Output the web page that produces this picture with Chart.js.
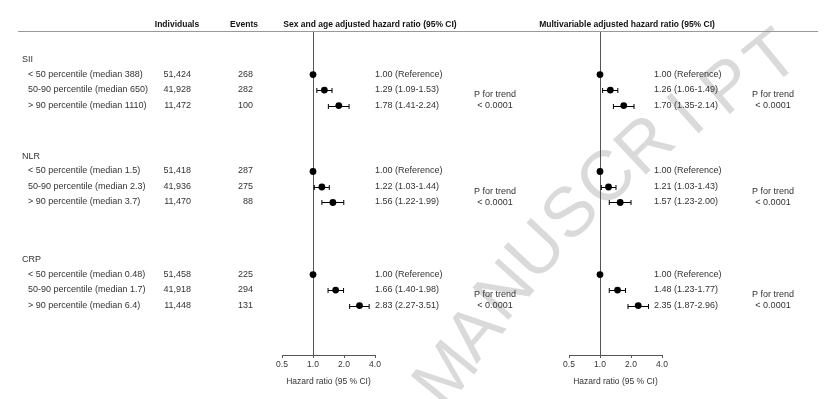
<!DOCTYPE html>
<html>
<head>
<meta charset="utf-8">
<script src="https://cdn.jsdelivr.net/npm/chart.js@4/dist/chart.umd.min.js"></script>
<style>
html, body { margin: 0; padding: 0; background: #fff; }
#wrap { position: relative; width: 830px; height: 399px; }
.panel { position: absolute; left: 0; top: 0; width: 830px; height: 399px; }
</style>
</head>
<body>
<div id="wrap">
  <div class="panel"><canvas id="age-sex-chart"></canvas></div>
  <div class="panel"><canvas id="multi-chart"></canvas></div>
</div>
<script>
// Группы и подгруппы
const groupNames = ['SII', 'NLR', 'CRP'];
const rowLabels = [
    '< 50 percentile (median 388)', '50-90 percentile (median 650)', '> 90 percentile (median 1110)',
    '< 50 percentile (median 1.5)', '50-90 percentile (median 2.3)', '> 90 percentile (median 3.7)',
    '< 50 percentile (median 0.48)', '50-90 percentile (median 1.7)', '> 90 percentile (median 6.4)'
];
const individuals = ['51,424', '41,928', '11,472', '51,418', '41,936', '11,470', '51,458', '41,918', '11,448'];
const events = ['268', '282', '100', '287', '275', '88', '225', '294', '131'];

// Отношение рисков с поправкой на пол и возраст
const hrAgeSex = [1.00, 1.29, 1.78, 1.00, 1.22, 1.56, 1.00, 1.66, 2.83];
const loAgeSex = [null, 1.09, 1.41, null, 1.03, 1.22, null, 1.40, 2.27];
const hiAgeSex = [null, 1.53, 2.24, null, 1.44, 1.99, null, 1.98, 3.51];

// Многофакторная модель
const hrMulti = [1.00, 1.26, 1.70, 1.00, 1.21, 1.57, 1.00, 1.48, 2.35];
const loMulti = [null, 1.06, 1.35, null, 1.03, 1.23, null, 1.23, 1.87];
const hiMulti = [null, 1.49, 2.14, null, 1.43, 2.00, null, 1.77, 2.96];

const pTrendAgeSex = ['< 0.0001', '< 0.0001', '< 0.0001'];
const pTrendMulti = ['< 0.0001', '< 0.0001', '< 0.0001'];

const xTicks = [0.5, 1, 2, 4];

// Раскладка строк (в единицах строки)
const groupStart = [2.75, 9.0, 15.65];
const yMax = 20.84;
const W = 830;
const FONT = "'Liberation Sans', Arial, sans-serif";

Chart.defaults.font.family = FONT;

function rowPos(i) {
    return groupStart[Math.floor(i / 3)] + (i % 3);
}

function hrText(hr, lo, hi) {
    if (lo === null) return hr.toFixed(2) + ' (Reference)';
    return hr.toFixed(2) + ' (' + lo.toFixed(2) + '-' + hi.toFixed(2) + ')';
}

// Водяной знак
function drawWatermark(ctx) {
    const letters = 'MANUSCRIPT'.split('');
    ctx.save();
    ctx.fillStyle = '#dadada';
    ctx.font = '70px ' + FONT;
    ctx.textAlign = 'center';
    ctx.textBaseline = 'middle';
    const x0 = 448, y0 = 376, x1 = 774, y1 = 60;
    letters.forEach((ch, k) => {
        const t = k / (letters.length - 1);
        const bend = Math.sin(t * Math.PI) * 30;
        const x = x0 + (x1 - x0) * t - bend * 0.7;
        const y = y0 + (y1 - y0) * t - bend * 0.7;
        ctx.save();
        ctx.translate(x, y);
        ctx.rotate(-Math.PI / 4 - 0.2 * (0.5 - t));
        ctx.fillText(ch, 0, 0);
        ctx.restore();
    });
    ctx.restore();
}

function forestPlugin(cfg) {
    return {
        id: 'forest-' + cfg.id,
        beforeDraw(chart) {
            if (cfg.table) drawWatermark(chart.ctx);
        },
        beforeDatasetsDraw(chart) {
            const { ctx, chartArea } = chart;
            const xs = chart.scales.x, ys = chart.scales.y;
            ctx.save();
            // Вертикальная линия HR = 1
            const x1 = Math.round(xs.getPixelForValue(1)) + 0.5;
            ctx.strokeStyle = '#555';
            ctx.lineWidth = 1;
            ctx.beginPath();
            ctx.moveTo(x1, chartArea.top);
            ctx.lineTo(x1, chartArea.bottom);
            ctx.stroke();
            // Доверительные интервалы
            ctx.strokeStyle = '#000';
            cfg.lo.forEach((lo, i) => {
                if (lo === null) return;
                const y = Math.round(ys.getPixelForValue(rowPos(i))) + 0.5;
                const a = xs.getPixelForValue(lo), b = xs.getPixelForValue(cfg.hi[i]);
                ctx.beginPath();
                ctx.moveTo(a, y); ctx.lineTo(b, y);
                ctx.moveTo(a, y - 2.5); ctx.lineTo(a, y + 2.5);
                ctx.moveTo(b, y - 2.5); ctx.lineTo(b, y + 2.5);
                ctx.stroke();
            });
            ctx.restore();
        },
        afterDraw(chart) {
            const { ctx, chartArea } = chart;
            const ys = chart.scales.y;
            ctx.save();
            ctx.textBaseline = 'middle';
            // Заголовки
            ctx.fillStyle = '#111';
            ctx.font = 'bold 8.5px ' + FONT;
            ctx.textAlign = 'center';
            ctx.fillText(cfg.title, cfg.titleX, chartArea.top - 7);
            if (cfg.table) {
                ctx.fillText('Individuals', 177, chartArea.top - 7);
                ctx.fillText('Events', 244, chartArea.top - 7);
                ctx.strokeStyle = '#999';
                ctx.lineWidth = 1;
                ctx.beginPath();
                ctx.moveTo(18, chartArea.top - 0.5);
                ctx.lineTo(818, chartArea.top - 0.5);
                ctx.stroke();
            }
            ctx.font = '9px ' + FONT;
            ctx.fillStyle = '#333';
            if (cfg.table) {
                groupNames.forEach((g, k) => {
                    ctx.textAlign = 'left';
                    ctx.fillText(g, 22, ys.getPixelForValue(groupStart[k] - 0.95));
                });
                rowLabels.forEach((lab, i) => {
                    const y = ys.getPixelForValue(rowPos(i)) - 0.5;
                    ctx.textAlign = 'left';
                    ctx.fillText(lab, 28, y);
                    ctx.textAlign = 'right';
                    ctx.fillText(individuals[i], 191, y);
                    ctx.fillText(events[i], 253, y);
                });
            }
            ctx.textAlign = 'left';
            cfg.hr.forEach((hr, i) => {
                const y = ys.getPixelForValue(rowPos(i)) - 0.5;
                ctx.fillText(hrText(hr, cfg.lo[i], cfg.hi[i]), cfg.textX, y);
            });
            ctx.textAlign = 'center';
            cfg.pTrend.forEach((p, k) => {
                ctx.fillText('P for trend', cfg.pX, ys.getPixelForValue(groupStart[k] + 1.3));
                ctx.fillText(p, cfg.pX, ys.getPixelForValue(groupStart[k] + 1.98));
            });
            ctx.restore();
        }
    };
}

function makePanel(canvasId, cfg) {
    const ctx = document.getElementById(canvasId);
    return new Chart(ctx, {
        type: 'scatter',
        data: {
            datasets: [{
                data: cfg.hr.map((v, i) => ({ x: v, y: rowPos(i) })),
                pointRadius: 3.4,
                pointBackgroundColor: '#000',
                pointBorderColor: '#000',
                pointBorderWidth: 0
            }]
        },
        options: {
            responsive: true,
            maintainAspectRatio: false,
            animation: false,
            devicePixelRatio: 1,
            layout: { padding: { left: cfg.left, right: W - cfg.right, top: 32, bottom: 0 } },
            plugins: { legend: { display: false }, tooltip: { enabled: false } },
            scales: {
                x: {
                    type: 'logarithmic',
                    min: 0.5,
                    max: 4,
                    afterBuildTicks: s => { s.ticks = xTicks.map(v => ({ value: v })); },
                    afterFit: s => { s.height = 44; },
                    ticks: {
                        callback: v => Number(v).toFixed(1),
                        color: '#333',
                        font: { size: 8.5 },
                        padding: 2,
                        maxRotation: 0,
                        autoSkip: false
                    },
                    grid: { display: true, drawOnChartArea: false, drawTicks: true, tickLength: 3, color: '#555' },
                    border: { display: true, color: '#555', width: 1 },
                    title: {
                        display: true,
                        text: 'Hazard ratio (95 % CI)',
                        color: '#333',
                        font: { size: 8.5 },
                        padding: { top: 0, bottom: 12 }
                    }
                },
                y: { type: 'linear', display: false, reverse: true, min: 0, max: yMax }
            }
        },
        plugins: [forestPlugin(cfg)]
    });
}

makePanel('age-sex-chart', {
    id: 'agesex', table: true, left: 282, right: 375,
    hr: hrAgeSex, lo: loAgeSex, hi: hiAgeSex, pTrend: pTrendAgeSex,
    title: 'Sex and age adjusted hazard ratio (95% CI)', titleX: 370,
    textX: 375, pX: 495
});

makePanel('multi-chart', {
    id: 'multi', table: false, left: 569, right: 662,
    hr: hrMulti, lo: loMulti, hi: hiMulti, pTrend: pTrendMulti,
    title: 'Multivariable adjusted hazard ratio (95% CI)', titleX: 627,
    textX: 654, pX: 773
});
</script>
</body>
</html>
